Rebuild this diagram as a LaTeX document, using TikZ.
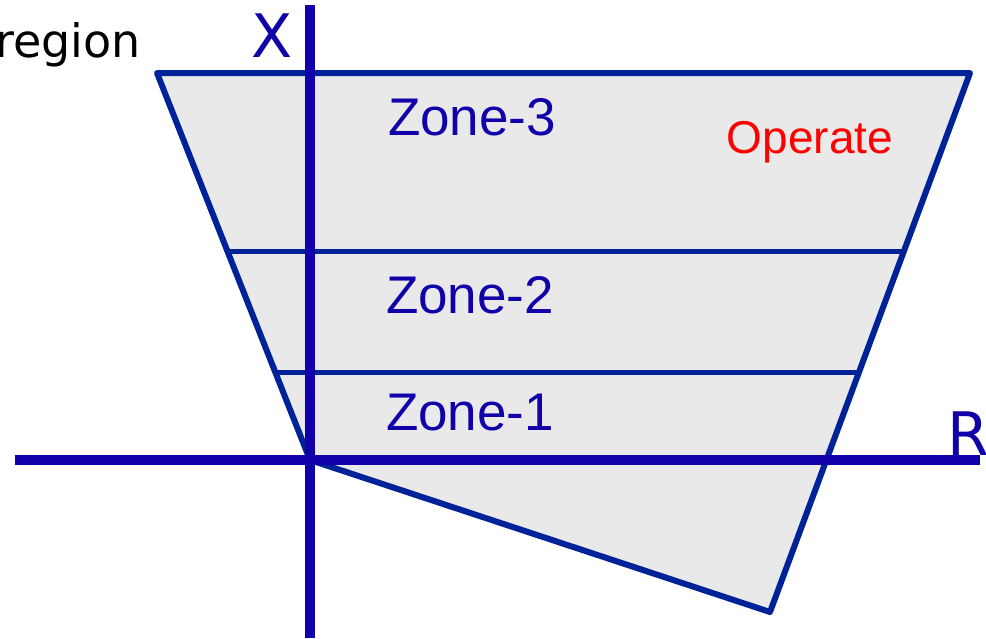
\documentclass[tikz,border=0pt]{standalone}
\usepackage{fontspec}
\setmainfont{Liberation Sans}
\newfontfamily\axisfont{DejaVu Sans}
\definecolor{axisblue}{RGB}{17,0,170}
\definecolor{edgeblue}{RGB}{0,34,153}
\definecolor{zonegray}{RGB}{233,233,233}

\begin{document}
\begin{tikzpicture}[x=1pt,y=-1pt,
    zone/.style={text=axisblue,inner sep=0pt,anchor=base,font=\fontsize{53}{60}\selectfont},
    axislabel/.style={inner sep=0pt,font=\axisfont\fontsize{60}{66}\selectfont},
    border/.style={draw=edgeblue,line width=6pt,line join=round}]
    \useasboundingbox (0,0) rectangle (986,638);
    % operating region
    \fill[zonegray] (157,73) -- (970,73) -- (770,612) -- (310,460) -- cycle;
    \draw[edgeblue,line width=5pt] (227,251) -- (904,251);
    \draw[edgeblue,line width=5pt] (274,372) -- (859,372);
    \draw[border] (157,73) -- (970,73) -- (770,612) -- (310,460) -- cycle;
    % axes
    \draw[axisblue,line width=10pt] (310,5) -- (310,638);
    \draw[axisblue,line width=10pt] (15,460) -- (980,460);
    % labels
    \node[zone] (zone3) at (472,135) {Zone-3};
    \node[zone] (zone2) at (470,313) {Zone-2};
    \node[zone] (zone1) at (470,430) {Zone-1};
    \node[zone,text=red,font=\fontsize{46}{52}\selectfont] (operate) at (810,153) {Operate};
    \node[axislabel,text=axisblue,anchor=base] (xlabel) at (272,57) {X};
    \node[axislabel,text=axisblue,anchor=base west] (rlabel) at (947,455) {R};
    \node[axislabel,font=\axisfont\fontsize{46}{52}\selectfont,anchor=base east] (region) at (141,57) {region};
\end{tikzpicture}
\end{document}
